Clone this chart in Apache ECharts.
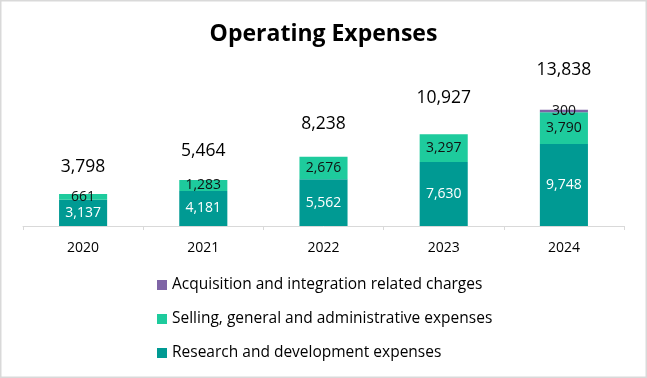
<!DOCTYPE html>
<html>
<head>
<meta charset="utf-8">
<script src="https://cdn.jsdelivr.net/npm/echarts@6/dist/echarts.min.js"></script>
<style>
  html, body { margin: 0; padding: 0; background: #fff; }
  #chart { width: 647px; height: 378px; }
</style>
</head>
<body>
<div id="chart"></div>
<script>
const categories = ['2020', '2021', '2022', '2023', '2024'];
const researchDev = [3137, 4181, 5562, 7630, 9748];
const sellingGA = [661, 1283, 2676, 3297, 3790];
const acquisition = [null, null, null, null, 300];
const totals = [3798, 5464, 8238, 10927, 13838];

const FONT = '"Open Sans", sans-serif';
const fmt = v => Number(v).toLocaleString('en-US');

const chart = echarts.init(document.getElementById('chart'), null, { renderer: 'canvas' });
chart.setOption({
  animation: false,
  backgroundColor: '#ffffff',
  textStyle: { fontFamily: FONT },
  title: {
    text: 'Operating Expenses',
    left: 'center',
    top: 18,
    textStyle: { fontFamily: FONT, fontSize: 23, fontWeight: 'bold', color: '#000' }
  },
  graphic: [{
    type: 'rect',
    shape: { x: 0.75, y: 0.75, width: 645.5, height: 376.5 },
    style: { fill: 'none', stroke: '#d9d9d9', lineWidth: 1.5 },
    silent: true
  }],
  legend: {
    orient: 'vertical',
    left: 157,
    top: 277,
    padding: 0,
    itemWidth: 10,
    itemHeight: 10,
    itemGap: 18,
    icon: 'rect',
    data: ['Acquisition and integration related charges', 'Selling, general and administrative expenses', 'Research and development expenses'],
    textStyle: { fontFamily: FONT, fontSize: 15.5, color: '#000' }
  },
  grid: { left: 23, right: 23, top: 58, bottom: 152, containLabel: false },
  xAxis: {
    type: 'category',
    data: categories,
    axisLine: { lineStyle: { color: '#d9d9d9', width: 1 } },
    axisTick: { show: true, length: 4, lineStyle: { color: '#d9d9d9' } },
    axisLabel: { fontFamily: FONT, fontSize: 14, color: '#000', margin: 15 }
  },
  yAxis: [
    { type: 'value', min: 0, max: 20000, show: false, splitLine: { show: false } },
    { type: 'value', min: 0, max: 17400, show: false, splitLine: { show: false } }
  ],
  series: [
    {
      name: 'Research and development expenses',
      type: 'bar',
      stack: 'opex',
      data: researchDev,
      barCategoryGap: '60%',
      itemStyle: { color: '#009a93' },
      label: { show: true, position: 'inside', color: '#fff', fontFamily: FONT, fontSize: 14, formatter: p => fmt(p.value) }
    },
    {
      name: 'Selling, general and administrative expenses',
      type: 'bar',
      stack: 'opex',
      data: sellingGA,
      itemStyle: { color: '#1ecb9d' },
      label: { show: true, position: 'inside', color: '#111', fontFamily: FONT, fontSize: 14, formatter: p => fmt(p.value) }
    },
    {
      name: 'Acquisition and integration related charges',
      type: 'bar',
      stack: 'opex',
      data: acquisition,
      itemStyle: { color: '#7f65a6' },
      label: { show: true, position: 'inside', color: '#111', fontFamily: FONT, fontSize: 14, formatter: p => p.value == null ? '' : fmt(p.value) }
    },
    {
      name: 'Total',
      type: 'line',
      yAxisIndex: 1,
      data: totals,
      symbol: 'circle',
      symbolSize: 1,
      showSymbol: true,
      itemStyle: { color: 'rgba(0,0,0,0)' },
      lineStyle: { width: 0, color: 'rgba(0,0,0,0)' },
      silent: true,
      z: 10,
      label: { show: true, position: 'top', distance: 13, color: '#000', fontFamily: FONT, fontSize: 17.5, formatter: p => fmt(p.value) }
    }
  ]
});
</script>
</body>
</html>
